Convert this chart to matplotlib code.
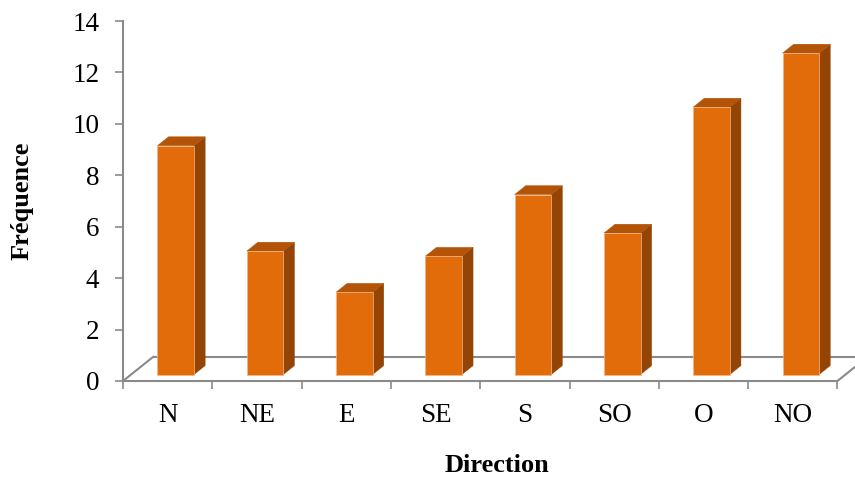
import numpy as np
import matplotlib.pyplot as plt
from matplotlib.patches import Polygon

plt.rcParams['font.family'] = ['Liberation Serif', 'DejaVu Serif']

directions = ["N", "NE", "E", "SE", "S", "SO", "O", "NO"]
frequence = [8.9, 4.8, 3.2, 4.6, 7.0, 5.5, 10.4, 12.5]
y_ticks = [0, 2, 4, 6, 8, 10, 12, 14]

front_col = "#e36c0a"
side_col = "#944405"
top_col = "#b45408"
edge_col = "#f3b58a"
axis_col = "#8a8a8a"

W, H = 855, 479
fig = plt.figure(figsize=(W / 100, H / 100), dpi=100)

# axes: x in category slots (89.3 px each), y in value units (25.7 px each)
x_px, y_px = 89.3, 25.71
ax_left, ax_bottom, ax_top = 123, 381, 21
ax = fig.add_axes([ax_left / W, (H - ax_bottom) / H,
                   (W - ax_left) / W, (ax_bottom - ax_top) / H])
n = len(directions)
ax.set_xlim(0, (W - ax_left) / x_px)
ax.set_ylim(0, 14)

# oblique depth of the floor, in data units
ddx, ddy = 30 / x_px, 24 / y_px

# floor
floor = Polygon([(0, 0), (n, 0), (n + ddx, ddy), (ddx, ddy)], closed=True,
                facecolor="white", edgecolor="none", zorder=1, clip_on=False)
ax.add_patch(floor)
ax.plot([ddx, n + 2 * ddx], [ddy, ddy], color=axis_col, lw=1.5, zorder=2,
        clip_on=False, solid_capstyle="butt")
ax.plot([0, ddx], [0, ddy], color=axis_col, lw=1.5, zorder=2, clip_on=False)
ax.plot([n, n + 2 * ddx], [0, 2 * ddy], color=axis_col, lw=1.5, zorder=2,
        clip_on=False)

# bars: front face plus side and top faces
f0, f1 = 0.27, 0.64
bw = 0.41
centers = np.arange(n) + 0.5 + f0 * ddx
base = f0 * ddy
sdx, sdy = (f1 - f0) * ddx, (f1 - f0) * ddy
ax.bar(centers, frequence, width=bw, bottom=base, color=front_col,
       edgecolor=edge_col, linewidth=0.5, zorder=5)
for c, v in zip(centers, frequence):
    x0, x1 = c - bw / 2, c + bw / 2
    top = base + v
    side = Polygon([(x1, base), (x1 + sdx, base + sdy), (x1 + sdx, top + sdy),
                    (x1, top)], closed=True, facecolor=side_col,
                   edgecolor=side_col, linewidth=0.3, zorder=4)
    lid = Polygon([(x0, top), (x1, top), (x1 + sdx, top + sdy),
                   (x0 + sdx, top + sdy)], closed=True, facecolor=top_col,
                  edgecolor=top_col, linewidth=0.3, zorder=4)
    ax.add_patch(side)
    ax.add_patch(lid)

# axes lines and ticks
for s in ["top", "right"]:
    ax.spines[s].set_visible(False)
ax.spines["left"].set_color(axis_col)
ax.spines["left"].set_linewidth(1.5)
ax.spines["left"].set_bounds(0, 14)
ax.spines["bottom"].set_color(axis_col)
ax.spines["bottom"].set_linewidth(1.5)
ax.spines["bottom"].set_bounds(0, n)
ax.spines["left"].set_zorder(3)
ax.spines["bottom"].set_zorder(3)

ax.set_yticks(y_ticks)
ax.set_yticklabels([str(t) for t in y_ticks])
ax.tick_params(axis="y", direction="out", length=6, width=1.2, color=axis_col,
               pad=11, labelsize=19.5)

ax.set_xticks(np.arange(n + 1))
ax.set_xticklabels([])
ax.set_xticks(np.arange(n) + 0.5, minor=True)
ax.set_xticklabels(directions, minor=True)
ax.tick_params(axis="x", which="major", direction="out", length=6, width=1.2,
               color=axis_col)
ax.tick_params(axis="x", which="minor", length=0, pad=16, labelsize=19.5)

fig.text(22 / W, 1 - 201 / H, "Fréquence", rotation=90, ha="center",
         va="center", fontsize=19, fontweight="bold")
fig.text(497 / W, 1 - 466 / H, "Direction", ha="center", va="center",
         fontsize=19, fontweight="bold")

fig.savefig("out.png", dpi=100)
